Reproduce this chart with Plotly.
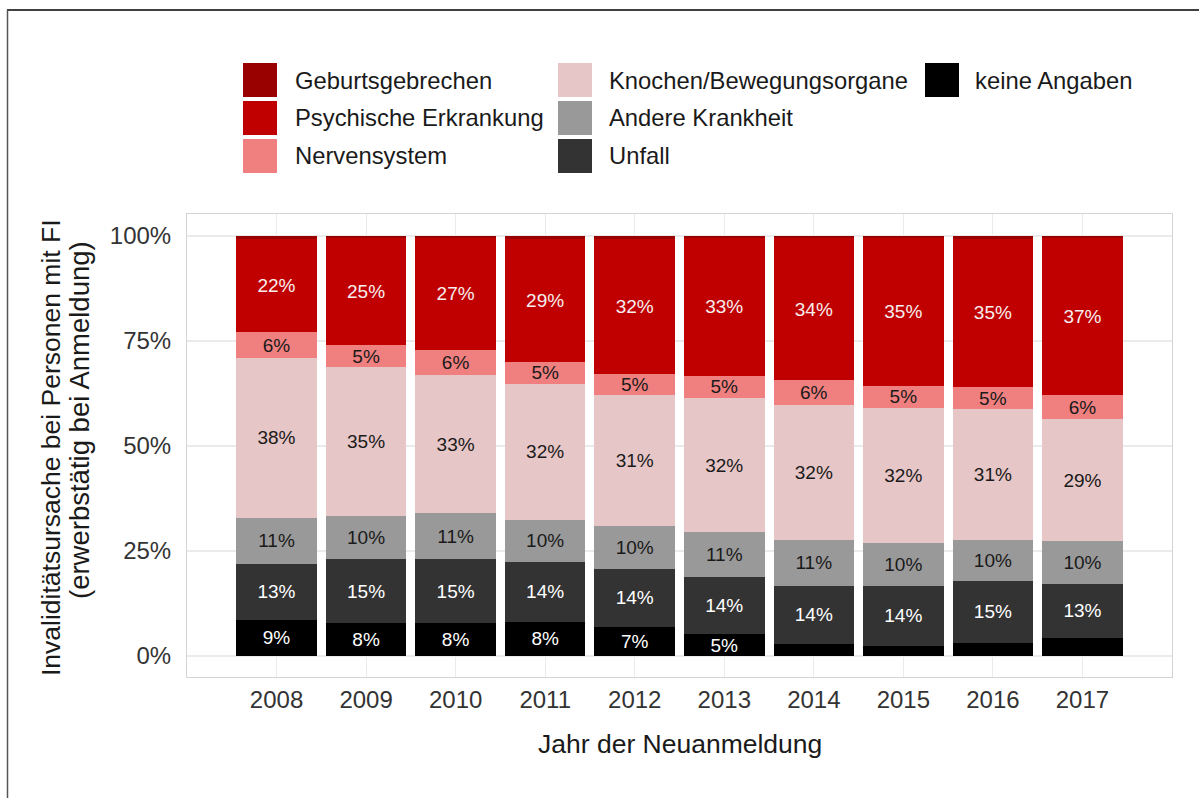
import plotly.graph_objects as go

# ---------------- data ----------------
years = ["2008", "2009", "2010", "2011", "2012", "2013", "2014", "2015", "2016", "2017"]

keine_angaben = [8.6, 7.8, 7.8, 8.1, 7.0, 5.2, 2.9, 2.5, 3.2, 4.4]
unfall = [13.3, 15.2, 15.3, 14.3, 13.7, 13.6, 13.8, 14.2, 14.7, 12.7]
andere_krankheit = [11.0, 10.3, 10.9, 10.0, 10.3, 10.7, 10.9, 10.2, 9.7, 10.3]
knochen = [38.1, 35.4, 32.8, 32.4, 31.1, 31.9, 32.2, 32.1, 31.2, 29.0]
nervensystem = [6.1, 5.4, 6.0, 5.2, 5.0, 5.3, 5.9, 5.4, 5.2, 5.7]
psychisch = [22.3, 25.4, 26.8, 29.4, 32.3, 32.8, 33.8, 35.1, 35.4, 37.4]
geburtsgebrechen = [0.6, 0.5, 0.4, 0.6, 0.6, 0.5, 0.5, 0.5, 0.6, 0.5]

y_ticks = [0, 25, 50, 75, 100]
y_ticklabels = ["0%", "25%", "50%", "75%", "100%"]

x_title = "Jahr der Neuanmeldung"
y_title_lines = ["Invaliditätsursache bei Personen mit FI", "(erwerbstätig bei Anmeldung)"]

# stacking order bottom -> top
series = [
    ("keine Angaben", keine_angaben, "#000000", "#ffffff"),
    ("Unfall", unfall, "#333333", "#ffffff"),
    ("Andere Krankheit", andere_krankheit, "#999999", "#1a1a1a"),
    ("Knochen/Bewegungsorgane", knochen, "#E6C6C6", "#1a1a1a"),
    ("Nervensystem", nervensystem, "#F08080", "#1a1a1a"),
    ("Psychische Erkrankung", psychisch, "#C00000", "#f7eeee"),
    ("Geburtsgebrechen", geburtsgebrechen, "#990000", "#ffffff"),
]

legend_columns = [
    ["Geburtsgebrechen", "Psychische Erkrankung", "Nervensystem"],
    ["Knochen/Bewegungsorgane", "Andere Krankheit", "Unfall"],
    ["keine Angaben"],
]

FONT = "Liberation Sans, Arial, sans-serif"
W, H = 1199, 798
ML, MR, MT, MB = 187, 27, 214, 121
PW, PH = W - ML - MR, H - MT - MB


def px2x(px):
    return (px - ML) / PW


def px2y(py):
    return (H - MB - py) / PH


fig = go.Figure()
for name, vals, color, tcolor in series:
    labels = [f"{round(v)}%" if (v >= 4.5 and name != "Geburtsgebrechen") else "" for v in vals]
    fig.add_trace(go.Bar(
        x=years, y=vals, name=name,
        marker=dict(color=color, line=dict(width=0)),
        text=labels, textposition="inside", insidetextanchor="middle",
        textangle=0, textfont=dict(color=tcolor, size=19, family=FONT),
        showlegend=False, hoverinfo="x+y+name",
    ))

shapes = []
annotations = []

# custom legend with large square keys
col_swatch_x = [243, 558, 925]
col_text_x = [293, 607, 973]
row_center_y = [80, 118, 156]
color_of = {s[0]: s[2] for s in series}
for ci, col in enumerate(legend_columns):
    for ri, name in enumerate(col):
        cy = row_center_y[ri]
        shapes.append(dict(
            type="rect", xref="paper", yref="paper",
            x0=px2x(col_swatch_x[ci]), x1=px2x(col_swatch_x[ci] + 34),
            y0=px2y(cy + 17), y1=px2y(cy - 17),
            fillcolor=color_of[name], line=dict(width=0), layer="above",
        ))
        annotations.append(dict(
            text=name, xref="paper", yref="paper",
            x=px2x(col_text_x[ci]), y=px2y(cy),
            xanchor="left", yanchor="middle", showarrow=False,
            font=dict(size=23.8, color="#1a1a1a", family=FONT),
        ))

# axis titles
annotations.append(dict(
    text=x_title, xref="paper", yref="paper",
    x=0.5, y=px2y(744), xanchor="center", yanchor="middle", showarrow=False,
    font=dict(size=26.5, color="#1a1a1a", family=FONT),
))
for line, cx, cy, fs in zip(y_title_lines, [51, 79], [448, 420], [26.5, 27.5]):
    annotations.append(dict(
        text=line, xref="paper", yref="paper", textangle=-90,
        x=px2x(cx), y=px2y(cy), xanchor="center", yanchor="middle", showarrow=False,
        font=dict(size=fs, color="#1a1a1a", family=FONT),
    ))

# outer frame lines (screenshot border)
shapes.append(dict(type="line", xref="paper", yref="paper",
                   x0=px2x(7), x1=px2x(1199), y0=px2y(10), y1=px2y(10),
                   line=dict(color="#000000", width=1.5)))
shapes.append(dict(type="line", xref="paper", yref="paper",
                   x0=px2x(7.5), x1=px2x(7.5), y0=px2y(10), y1=px2y(798),
                   line=dict(color="#555555", width=1.5)))

fig.update_layout(
    width=W, height=H,
    margin=dict(l=ML, r=MR, t=MT, b=MB, pad=0),
    barmode="stack", bargap=0.1,
    plot_bgcolor="white", paper_bgcolor="white",
    font=dict(family=FONT, color="#333333"),
    uniformtext=dict(minsize=19, mode="show"),
    shapes=shapes, annotations=annotations,
    showlegend=False,
)
fig.update_xaxes(
    type="category", range=[-1.0, 10.0],
    showgrid=True, gridcolor="#ebebeb", gridwidth=1,
    ticks="outside", ticklen=1, tickcolor="rgba(0,0,0,0)",
    tickfont=dict(size=24, color="#333333", family=FONT),
    showline=True, linecolor="#d4d4d4", linewidth=1, mirror=True,
    zeroline=False,
)
fig.update_yaxes(
    range=[-5.0, 105.24],
    tickvals=y_ticks, ticktext=y_ticklabels,
    showgrid=True, gridcolor="#ebebeb", gridwidth=1.5,
    ticks="outside", ticklen=10, tickcolor="rgba(0,0,0,0)",
    tickfont=dict(size=24, color="#333333", family=FONT),
    showline=True, linecolor="#d4d4d4", linewidth=1, mirror=True,
    zeroline=False,
)

fig.write_html(
    "out.html",
    config={"displayModeBar": False},
    post_script="document.body.style.margin='0';document.body.style.padding='0';",
)
